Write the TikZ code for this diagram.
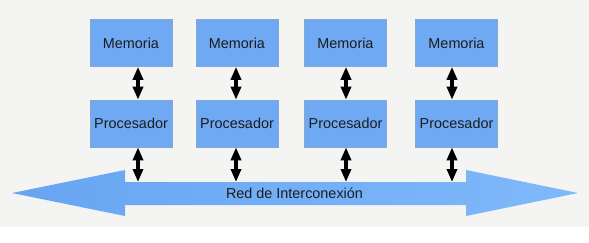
\documentclass[tikz,border=0pt]{standalone}
\usepackage{fontspec}
\setmainfont{Liberation Sans}
\usepackage{tikz}
\usepackage{xcolor}
\usetikzlibrary{arrows.meta,positioning,calc}
\definecolor{cBg}{HTML}{F4F4F3}
\definecolor{cBox}{HTML}{6FA8F3}
\definecolor{cEdge}{HTML}{86A9D2}
\definecolor{cNetL}{HTML}{68A5F2}
\definecolor{cNetR}{HTML}{7FB9FA}
\definecolor{cTxt}{HTML}{1C1C1C}
\tikzset{
  unit/.style={rectangle,draw=cEdge,line width=.6pt,fill=cBox,
               minimum width=82pt,minimum height=47pt,inner sep=0pt,
               text=cTxt,font=\fontsize{14.4}{16}\selectfont},
  biarrow/.style={{Triangle[width=10pt,length=13pt]}-{Triangle[width=10pt,length=13pt]},
               line width=3.5pt,black},
  netlabel/.style={text=cTxt,font=\fontsize{14.4}{16}\selectfont},
}
\begin{document}
\begin{tikzpicture}[x=1pt,y=-1pt]
  \useasboundingbox (0,0) rectangle (589,242);
  \fill[white] (0,0) rectangle (589,242);
  \fill[cBg] (0,0) rectangle (589,227);
  % interconnection network, a wide double arrow
  \shade[left color=cNetL,right color=cNetR]
    (12,193) -- (125,170) -- (125,182) -- (466,182) -- (466,170) -- (578,193)
    -- (466,216) -- (466,205) -- (125,205) -- (125,216) -- cycle;
  \coordinate (shaft) at (0,182);
  \node[netlabel] (red) at (294.5,193) {Red de Interconexión};
  % four memory/processor columns
  \foreach \i/\cx/\ax in {1/131/138,2/237/236,3/345.5/346,4/456.5/452}{
     \node[unit] (m\i) at (\cx,43) {Memoria};
     \node[unit] (p\i) at (\cx,123.5) {Procesador};
     \coordinate (a\i) at (\ax,0);
     \draw[biarrow] (m\i.south -| a\i) -- (p\i.north -| a\i);
     \draw[biarrow] (p\i.south -| a\i) -- (a\i |- shaft);
  }
\end{tikzpicture}
\end{document}
